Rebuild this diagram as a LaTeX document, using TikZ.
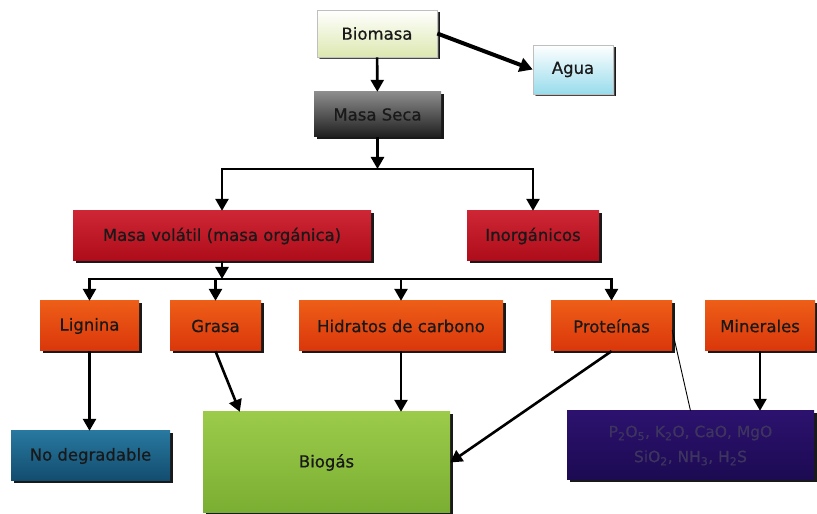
\documentclass[tikz,border=0pt]{standalone}
\usepackage{fontspec}
\setmainfont{DejaVu Sans}
\usetikzlibrary{arrows.meta,shadows,calc}

\definecolor{paleGreen}{HTML}{DCE8B0}
\definecolor{paleCyan}{HTML}{98DCEC}
\definecolor{redTop}{HTML}{CE2634}
\definecolor{redBot}{HTML}{AE0C1A}
\definecolor{orTop}{HTML}{EE5E18}
\definecolor{orBot}{HTML}{DA360A}
\definecolor{tealTop}{HTML}{2878A0}
\definecolor{tealBot}{HTML}{124C6E}
\definecolor{grnTop}{HTML}{9CCB4A}
\definecolor{grnBot}{HTML}{7AAE32}
\definecolor{navyTop}{HTML}{2C126E}
\definecolor{navyBot}{HTML}{1C0A52}
\definecolor{mixText}{HTML}{3E355F}

% slightly heavier strokes for the box labels
\newcommand{\labelfont}{\fontsize{16.5}{19}\selectfont\addfontfeatures{FakeBold=0.6}}

\begin{document}
\begin{tikzpicture}[x=1pt,y=1pt,
  box/.style={rectangle, inner sep=0pt, font=\labelfont,
    text=black!90,
    drop shadow={shadow xshift=2.5pt,shadow yshift=-2.5pt,opacity=0.9,fill=black}},
  lightbox/.style={box, draw=black!25, line width=0.6pt,
    drop shadow={shadow xshift=1.5pt,shadow yshift=-2pt,opacity=0.6,fill=black!60}},
  redbox/.style={box, top color=redTop, bottom color=redBot},
  orbox/.style={box, top color=orTop, bottom color=orBot},
  link/.style={line width=2.6pt, -{Triangle[length=12pt,width=13pt]}},
  bar/.style={line width=2.6pt, line cap=rect},
]
\useasboundingbox (0,0) rectangle (817,514);

% --- top level
\node[lightbox, top color=white, bottom color=paleGreen,
      minimum width=120, minimum height=47] (bio) at (377,480.5) {Biomasa};
\node[lightbox, top color=white, bottom color=paleCyan,
      minimum width=80, minimum height=49] (agua) at (573,444.5) {Agua};
\node[box, top color=black!45, bottom color=black!88,
      minimum width=127, minimum height=45] (seca) at (377.5,399.5) {Masa Seca};

% --- second level
\node[redbox, minimum width=298, minimum height=50] (vol) at (222,278)
  {Masa volátil (masa orgánica)};
\node[redbox, minimum width=132, minimum height=50] (inorg) at (533,278)
  {Inorgánicos};

% --- components
\node[orbox, minimum width=99, minimum height=50] (lig) at (89.5,188) {Lignina};
\node[orbox, minimum width=91, minimum height=50] (gra) at (215.5,188) {Grasa};
\node[orbox, minimum width=204, minimum height=50] (hid) at (401,188)
  {Hidratos de carbono};
\node[orbox, minimum width=121, minimum height=50] (pro) at (611.5,188) {Proteínas};
\node[orbox, minimum width=110, minimum height=50] (min) at (760,188) {Minerales};

% --- products
\node[box, top color=tealTop, bottom color=tealBot,
      minimum width=159, minimum height=50] (nod) at (90.5,58) {No degradable};
\node[box, top color=grnTop, bottom color=grnBot,
      minimum width=247, minimum height=101] (gas) at (326.5,51.5) {Biogás};
\node[box, top color=navyTop, bottom color=navyBot, text=mixText,
      align=center, font={\fontsize{15.5}{25}\selectfont\addfontfeatures{FakeBold=0.6}},
      minimum width=247, minimum height=69] (mix) at (690.5,68.5)
  {P\textsubscript{2}O\textsubscript{5}, K\textsubscript{2}O, CaO, MgO\\
   SiO\textsubscript{2}, NH\textsubscript{3}, H\textsubscript{2}S};

% --- branch points
\coordinate (split1) at (377.5,345);
\coordinate (split2) at (222,235);

% --- connectors
\draw[link] (bio) -- (seca);
\draw[line width=4pt, -{Triangle[length=13pt,width=14pt]}] (bio.east) -- (agua.west);

\draw[link] (seca.south) -- (split1);
\draw[bar] (split1 -| vol.north) -- (split1 -| inorg.north);
\draw[link] (split1 -| vol.north) -- (vol.north);
\draw[link] (split1 -| inorg.north) -- (inorg.north);

\draw[link] (vol.south) -- (split2);
\draw[bar] (split2 -| lig.north) -- (split2 -| pro.north);
\foreach \n in {lig,gra,hid,pro}
  \draw[link] (split2 -| \n.north) -- (\n.north);

\draw[link] (lig.south) -- (lig.south |- nod.north);
\draw[link] (gra.south) -- ($(gas.north west)+(37,0)$);
\draw[link] (hid.south) -- (hid.south |- gas.north);
\draw[link] (pro.south) -- (gas.east);
\draw[line width=0.9pt] ($(pro.east)+(0,-4)$) -- (mix.north);
\draw[link] (min.south) -- (min.south |- mix.north);
\end{tikzpicture}
\end{document}
